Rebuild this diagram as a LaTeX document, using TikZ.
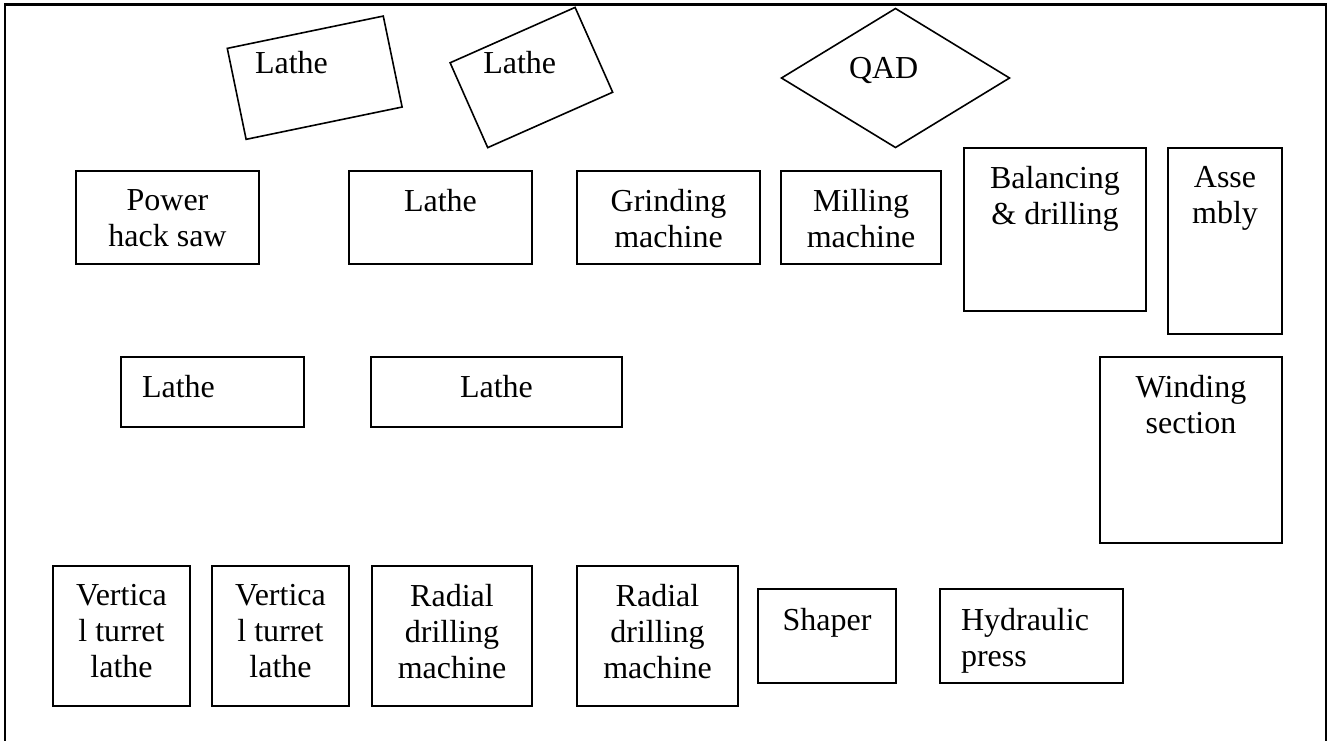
\documentclass[tikz,border=0pt]{standalone}
\usepackage{fontspec}
\setmainfont{Liberation Serif}
\usetikzlibrary{shapes.geometric,calc}
\tikzset{
  box/.style={draw, line width=1.6pt, inner sep=0pt, outer sep=0pt, anchor=north west},
  lbl/.style={font=\fontsize{32}{36}\selectfont, inner sep=0pt, outer sep=0pt, align=center},
  frameline/.style={line width=2.6pt}
}
\begin{document}
\begin{tikzpicture}[x=1pt, y=-1pt]
\useasboundingbox (0,0) rectangle (1331,740);
% outer frame (open at bottom)
\coordinate (f1) at (5,760);
\coordinate (f2) at (5,4.5);
\coordinate (f3) at (1326,4.5);
\coordinate (f4) at (1326,760);
\draw[frameline] (f1) -- (f2) -- (f3) -- (f4);

% rotated lathes
\node[draw, line width=1.6pt, inner sep=0pt, outer sep=0pt, minimum width=159.3, minimum height=92.9, rotate=11.7] (rl1) at (314.7,77.7) {};
\node[lbl, anchor=north west] (rl1t) at (255,51.5) {Lathe};
\node[draw, line width=1.6pt, inner sep=0pt, outer sep=0pt, minimum width=136.7, minimum height=92.8, rotate=23.9] (rl2) at (531.4,77.5) {};
\node[lbl, anchor=north west] (rl2t) at (483.3,51.5) {Lathe};

% QAD diamond
\node[draw, diamond, line width=1.6pt, inner sep=0pt, outer sep=0pt, minimum width=228, minimum height=139, aspect=1.64] (qad) at (895.5,78) {};
\node[lbl, anchor=north west] (qadt) at (849,57) {QAD};

% row 1
\node[box, minimum width=183, minimum height=93] (ph) at (76,171) {};
\node[lbl, anchor=north] (pht) at ([yshift=-18.5pt]ph.north) {Power\\hack saw};
\node[box, minimum width=183, minimum height=93] (l2) at (349,171) {};
\node[lbl, anchor=north] (l2t) at ([yshift=-18.5pt]l2.north) {Lathe};
\node[box, minimum width=183, minimum height=93] (gr) at (577,171) {};
\node[lbl, anchor=north] (grt) at ([yshift=-18.5pt]gr.north) {Grinding\\machine};
\node[box, minimum width=160, minimum height=93] (mi) at (781,171) {};
\node[lbl, anchor=north] (mit) at ([yshift=-18.5pt]mi.north) {Milling\\machine};
\node[box, minimum width=182, minimum height=163] (ba) at (964,148) {};
\node[lbl, anchor=north] (bat) at ([yshift=-18.5pt]ba.north) {Balancing\\\& drilling};
\node[box, minimum width=114, minimum height=186] (as) at (1168,148) {};
\node[lbl, anchor=north] (ast) at ([yshift=-18.5pt]as.north) {Asse\\mbly};

% row 2
\node[box, minimum width=183, minimum height=70] (l3a) at (121,357) {};
\node[lbl, anchor=north west] (l3at) at ([xshift=21pt,yshift=-18.5pt]l3a.north west) {Lathe};
\node[box, minimum width=251, minimum height=70] (l3b) at (371,357) {};
\node[lbl, anchor=north] (l3bt) at ([yshift=-18.5pt]l3b.north) {Lathe};
\node[box, minimum width=182, minimum height=186] (wi) at (1100,357) {};
\node[lbl, anchor=north] (wit) at ([yshift=-18.5pt]wi.north) {Winding\\section};

% row 3
\node[box, minimum width=137, minimum height=140] (v1) at (53,566) {};
\node[lbl, anchor=north] (v1t) at ([yshift=-18.5pt]v1.north) {Vertica\\l turret\\lathe};
\node[box, minimum width=137, minimum height=140] (v2) at (212,566) {};
\node[lbl, anchor=north] (v2t) at ([yshift=-18.5pt]v2.north) {Vertica\\l turret\\lathe};
\node[box, minimum width=160, minimum height=140] (r1) at (372,566) {};
\node[lbl, anchor=north] (r1t) at ([yshift=-18.5pt]r1.north) {Radial\\drilling\\machine};
\node[box, minimum width=161, minimum height=140] (r2) at (577,566) {};
\node[lbl, anchor=north] (r2t) at ([yshift=-18.5pt]r2.north) {Radial\\drilling\\machine};
\node[box, minimum width=138, minimum height=94] (sh) at (758,589) {};
\node[lbl, anchor=north] (sht) at ([yshift=-19.5pt]sh.north) {Shaper};
\node[box, minimum width=183, minimum height=94] (hy) at (940,589) {};
\node[lbl, anchor=north west, align=left] (hyt) at ([xshift=21pt,yshift=-19.5pt]hy.north west) {Hydraulic\\press};
\end{tikzpicture}
\end{document}
